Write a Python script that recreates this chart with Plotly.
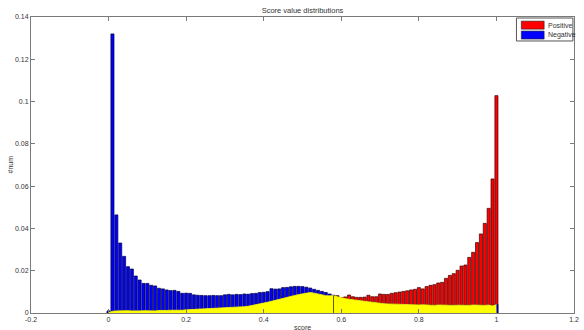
import plotly.graph_objects as go

# bin centers 0.00 .. 1.00
centers = [round(i * 0.01, 2) for i in range(101)]

negative = [
    0.0010,
    0.1320, 0.0464, 0.0331, 0.0268, 0.0219, 0.0208, 0.0175, 0.0156, 0.0140, 0.0140,
    0.0131, 0.0128, 0.0117, 0.0114, 0.0109, 0.0106, 0.0107, 0.0102, 0.0093, 0.0094,
    0.0093, 0.0086, 0.0084, 0.0083, 0.0082, 0.0082, 0.0083, 0.0082, 0.0082, 0.0086,
    0.0088, 0.0086, 0.0088, 0.0087, 0.0090, 0.0089, 0.0092, 0.0093, 0.0097, 0.0098,
    0.0101, 0.0115, 0.0113, 0.0114, 0.0120, 0.0121, 0.0124, 0.0126, 0.0126, 0.0125,
    0.0122, 0.0118, 0.0112, 0.0107, 0.0102, 0.0097, 0.0090, 0.0084, 0.0077, 0.0071,
    0.0068, 0.0065, 0.0062, 0.0059, 0.0057, 0.0055, 0.0053, 0.0051, 0.0048, 0.0046,
    0.0044, 0.0043, 0.0042, 0.0041, 0.0040, 0.0040, 0.0039, 0.0039, 0.0038, 0.0038,
    0.0039, 0.0037, 0.0038, 0.0036, 0.0038, 0.0037, 0.0036, 0.0038, 0.0036, 0.0037,
    0.0036, 0.0037, 0.0036, 0.0038, 0.0037, 0.0037, 0.0036, 0.0038, 0.0033, 0.0040,
]

positive = [
    0.0002,
    0.0008, 0.0010, 0.0011, 0.0010, 0.0011, 0.0010, 0.0009, 0.0010, 0.0011, 0.0010,
    0.0011, 0.0010, 0.0012, 0.0011, 0.0012, 0.0013, 0.0012, 0.0014, 0.0013, 0.0015,
    0.0016, 0.0015, 0.0016, 0.0018, 0.0019, 0.0018, 0.0020, 0.0022, 0.0023, 0.0024,
    0.0025, 0.0026, 0.0027, 0.0028, 0.0030, 0.0032, 0.0035, 0.0038, 0.0043, 0.0047,
    0.0051, 0.0056, 0.0060, 0.0065, 0.0071, 0.0075, 0.0079, 0.0083, 0.0087, 0.0091,
    0.0095, 0.0097, 0.0094, 0.0089, 0.0085, 0.0082, 0.0081, 0.0082, 0.0082, 0.0073,
    0.0076, 0.0085, 0.0077, 0.0074, 0.0074, 0.0075, 0.0084, 0.0077, 0.0077, 0.0090,
    0.0088, 0.0088, 0.0093, 0.0096, 0.0099, 0.0102, 0.0105, 0.0109, 0.0112, 0.0120,
    0.0114, 0.0125, 0.0131, 0.0134, 0.0142, 0.0145, 0.0164, 0.0178, 0.0186, 0.0202,
    0.0222, 0.0227, 0.0263, 0.0287, 0.0333, 0.0374, 0.0424, 0.0495, 0.0634, 0.1028,
]

threshold = 0.58

series_names = ["Positive", "Negative"]
series_colors = ["#ff0000", "#0000ff"]

x_ticks = [-0.2, 0, 0.2, 0.4, 0.6, 0.8, 1, 1.2]
x_labels = ["-0.2", "0", "0.2", "0.4", "0.6", "0.8", "1", "1.2"]
y_ticks = [0, 0.02, 0.04, 0.06, 0.08, 0.1, 0.12, 0.14]
y_labels = ["0", "0.02", "0.04", "0.06", "0.08", "0.1", "0.12", "0.14"]

overlap = [min(a, b) for a, b in zip(negative, positive)]
thr_idx = centers.index(threshold)

font = "Liberation Sans, Arial, sans-serif"
axis_col = "#7a7a7a"
txt_col = "#333333"

fig = go.Figure()
fig.add_trace(go.Bar(
    x=centers, y=positive, name=series_names[0], width=0.008,
    marker=dict(color=series_colors[0], line=dict(color="#3a0000", width=0.7)),
    showlegend=False,
))
fig.add_trace(go.Bar(
    x=centers, y=negative, name=series_names[1], width=0.008,
    marker=dict(color=series_colors[1], line=dict(color="#00003a", width=0.7)),
    showlegend=False,
))
fig.add_trace(go.Scatter(
    x=centers, y=overlap, mode="lines", fill="tozeroy",
    fillcolor="#ffff00", line=dict(color="#ffff00", width=0.8),
    showlegend=False, hoverinfo="skip",
))
fig.add_trace(go.Scatter(
    x=[threshold, threshold], y=[0, overlap[thr_idx]], mode="lines",
    line=dict(color="#5a5a00", width=1), showlegend=False, hoverinfo="skip",
))

# custom MATLAB-style legend box (paper coordinates)
shapes = [dict(type="rect", xref="paper", yref="paper", x0=0.894, x1=0.998,
               y0=0.919, y1=0.9966, line=dict(color="#555555", width=1),
               fillcolor="white", layer="above")]
annotations = []
for i, (nm, col) in enumerate(zip(series_names, series_colors)):
    yt = 0.986 - i * 0.0335
    yb = yt - 0.027
    shapes.append(dict(type="rect", xref="paper", yref="paper", x0=0.903, x1=0.945,
                       y0=yb, y1=yt, line=dict(color="#222222", width=0.6),
                       fillcolor=col, layer="above"))
    annotations.append(dict(text=nm, xref="paper", yref="paper", x=0.948,
                            y=(yt + yb) / 2, xanchor="left", yanchor="middle",
                            showarrow=False,
                            font=dict(family=font, size=7, color=txt_col)))

annotations += [
    dict(text="score", xref="paper", yref="paper", x=0.5, y=0,
         xanchor="center", yanchor="top", yshift=-9, showarrow=False,
         font=dict(family=font, size=7, color=txt_col)),
    dict(text="#num", xref="paper", yref="paper", x=0, y=0.5,
         xanchor="right", yanchor="middle", xshift=-16, textangle=-90,
         showarrow=False, font=dict(family=font, size=7, color=txt_col)),
]

fig.update_layout(
    width=584, height=330,
    margin=dict(l=31, r=5, t=17, b=17),
    paper_bgcolor="white", plot_bgcolor="white",
    barmode="overlay",
    font=dict(family=font, size=7, color=txt_col),
    title=dict(text="Score value distributions", xref="paper", x=0.5,
               xanchor="center", y=(330 - 10) / 330, yanchor="middle",
               font=dict(family=font, size=7.5, color=txt_col)),
    showlegend=False,
    shapes=shapes,
    annotations=annotations,
)
fig.update_xaxes(range=[-0.2, 1.2], tickvals=x_ticks, ticktext=x_labels,
                 ticks="inside", ticklen=4, tickcolor=axis_col,
                 showline=True, linecolor=axis_col, linewidth=1, mirror="ticks",
                 showgrid=False, zeroline=False,
                 tickfont=dict(family=font, size=7, color=txt_col))
fig.update_yaxes(range=[0, 0.14], tickvals=y_ticks, ticktext=y_labels,
                 ticks="inside", ticklen=4, tickcolor=axis_col,
                 showline=True, linecolor=axis_col, linewidth=1, mirror="ticks",
                 showgrid=False, zeroline=False,
                 tickfont=dict(family=font, size=7, color=txt_col))

fig.write_html("out.html", config={"displayModeBar": False},
               post_script="document.body.style.margin='0';")
